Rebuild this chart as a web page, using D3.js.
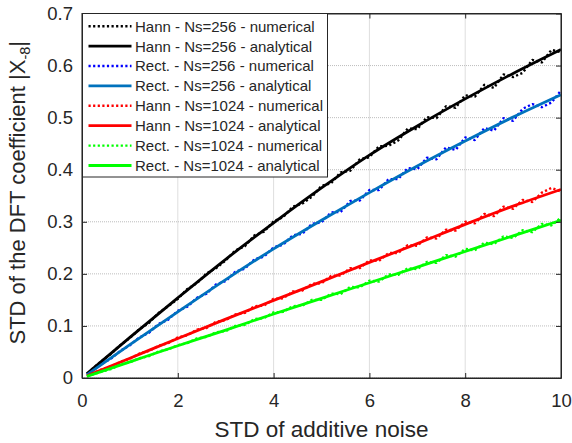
<!DOCTYPE html>
<html><head><meta charset="utf-8">
<script src="https://cdn.jsdelivr.net/npm/d3@7"></script>
<style>
body{margin:0;background:#fff}
text{font-family:"Liberation Sans",Arial,Helvetica,sans-serif;fill:#262626}
</style></head>
<body>
<svg id="chart" width="572" height="443"></svg>
<script>
// ---------- data ----------
const xTicks = [0, 2, 4, 6, 8, 10];
const xTickLabels = ["0", "2", "4", "6", "8", "10"];
const yTicks = [0, 0.1, 0.2, 0.3, 0.4, 0.5, 0.6, 0.7];
const yTickLabels = ["0", "0.1", "0.2", "0.3", "0.4", "0.5", "0.6", "0.7"];

const xAnalytical = [0.1, 1, 2, 3, 4, 5, 6, 7, 8, 9, 10];
const hann256Ana  = [0.008, 0.078, 0.154, 0.228, 0.298, 0.365, 0.428, 0.484, 0.536, 0.585, 0.631];
const rect256Ana  = [0.006, 0.064, 0.127, 0.189, 0.248, 0.303, 0.356, 0.407, 0.455, 0.501, 0.544];
const hann1024Ana = [0.004, 0.038, 0.076, 0.113, 0.149, 0.185, 0.222, 0.258, 0.295, 0.330, 0.362];
const rect1024Ana = [0.003, 0.031, 0.062, 0.092, 0.123, 0.153, 0.183, 0.213, 0.243, 0.273, 0.303];

const xNumerical = [0.2,0.4,0.6,0.8,1.0,1.2,1.4,1.6,1.8,2.0,2.2,2.4,2.6,2.8,3.0,3.2,3.4,3.6,3.8,4.0,
  4.2,4.4,4.6,4.8,5.0,5.2,5.4,5.6,5.8,6.0,6.2,6.4,6.6,6.8,7.0,7.2,7.4,7.6,7.8,8.0,
  8.2,8.4,8.6,8.8,9.0,9.2,9.4,9.6,9.8,10.0];
const hann256Num = [0.016,0.032,0.046,0.063,0.077,0.094,0.106,0.125,0.138,0.152,0.171,0.182,0.201,0.211,0.226,0.245,0.253,0.274,0.281,0.301,
  0.309,0.329,0.335,0.348,0.369,0.374,0.395,0.398,0.420,0.424,0.445,0.446,0.456,0.479,0.478,0.501,0.499,0.522,0.519,0.543,
  0.540,0.563,0.557,0.583,0.578,0.586,0.611,0.606,0.630,0.626];
const rect256Num = [0.013,0.027,0.037,0.052,0.063,0.078,0.087,0.104,0.112,0.129,0.137,0.154,0.162,0.180,0.186,0.204,0.210,0.228,0.233,0.251,
  0.256,0.274,0.277,0.296,0.299,0.318,0.319,0.340,0.341,0.361,0.361,0.382,0.382,0.403,0.401,0.423,0.420,0.443,0.438,0.462,
  0.457,0.480,0.475,0.499,0.494,0.517,0.526,0.520,0.529,0.552];
const hann1024Num = [0.008,0.016,0.022,0.031,0.037,0.047,0.052,0.062,0.067,0.078,0.082,0.093,0.096,0.108,0.111,0.122,0.125,0.138,0.139,0.152,
  0.153,0.166,0.168,0.181,0.182,0.196,0.197,0.211,0.211,0.226,0.225,0.240,0.240,0.255,0.254,0.270,0.268,0.285,0.283,0.300,
  0.297,0.315,0.311,0.329,0.325,0.342,0.338,0.356,0.365,0.358];
const rect1024Num = [0.006,0.012,0.017,0.026,0.030,0.038,0.042,0.051,0.055,0.063,0.067,0.076,0.079,0.088,0.090,0.100,0.102,0.113,0.115,0.126,
  0.127,0.138,0.139,0.150,0.150,0.162,0.161,0.175,0.174,0.187,0.185,0.199,0.198,0.211,0.209,0.223,0.221,0.236,0.233,0.248,
  0.245,0.260,0.257,0.272,0.269,0.284,0.280,0.296,0.293,0.308];

const seriesNames = [
  "Hann - Ns=256 - numerical", "Hann - Ns=256 - analytical",
  "Rect. - Ns=256 - numerical", "Rect. - Ns=256 - analytical",
  "Hann - Ns=1024 - numerical", "Hann - Ns=1024 - analytical",
  "Rect. - Ns=1024 - numerical", "Rect. - Ns=1024 - analytical"
];
const seriesColors = ["#000000","#000000","#0000ff","#0072bd","#ff0000","#ff0000","#00ff00","#00ff00"];
const seriesKinds = ["num","ana","num","ana","num","ana","num","ana"];
const seriesValues = [hann256Num, hann256Ana, rect256Num, rect256Ana, hann1024Num, hann1024Ana, rect1024Num, rect1024Ana];

// ---------- layout ----------
const W = 572, H = 443;
const L = 82, R = 561, T = 13.5, B = 378;

const svg = d3.select("#chart");
svg.append("rect").attr("width", W).attr("height", H).attr("fill", "#fff");

const x = d3.scaleLinear().domain([0, 10]).range([L, R]);
const y = d3.scaleLinear().domain([0, 0.7]).range([B, T]);

// grid
const grid = svg.append("g");
grid.selectAll("line.gx").data(xTicks).join("line")
  .attr("x1", d => x(d)).attr("x2", d => x(d)).attr("y1", T).attr("y2", B)
  .attr("stroke", "#bdbdbd").attr("stroke-width", 1).attr("stroke-dasharray", "1,1");
grid.selectAll("line.gy").data(yTicks).join("line")
  .attr("y1", d => y(d)).attr("y2", d => y(d)).attr("x1", L).attr("x2", R)
  .attr("stroke", "#bdbdbd").attr("stroke-width", 1).attr("stroke-dasharray", "1,1");

// series
const series = seriesNames.map((n, i) => ({
  name: n, color: seriesColors[i], kind: seriesKinds[i],
  pts: (seriesKinds[i] === "num" ? xNumerical : xAnalytical).map((xv, j) => [xv, seriesValues[i][j]])
}));

const lineNum = d3.line().x(d => x(d[0])).y(d => y(d[1]));
const lineAna = d3.line().x(d => x(d[0])).y(d => y(d[1])).curve(d3.curveMonotoneX);

const plot = svg.append("g");
[0,2,4,6,1,3,5,7].forEach(i => {
  const s = series[i];
  plot.append("path")
    .attr("d", s.kind === "num" ? lineNum(s.pts) : lineAna(s.pts))
    .attr("fill", "none").attr("stroke", s.color)
    .attr("stroke-width", s.kind === "num" ? 2.4 : 2.8)
    .attr("stroke-dasharray", s.kind === "num" ? "2.2,2.4" : null)
    .attr("stroke-linejoin", "round");
});

// axes
const fmtX = (d) => xTickLabels[xTicks.indexOf(d)];
const fmtY = (d) => yTickLabels[yTicks.findIndex(v => Math.abs(v - d) < 1e-9)];

const axB = svg.append("g").attr("transform", `translate(0,${B})`)
  .call(d3.axisBottom(x).tickValues(xTicks).tickFormat(fmtX).tickSize(-5).tickSizeOuter(0).tickPadding(16));
const axT = svg.append("g").attr("transform", `translate(0,${T})`)
  .call(d3.axisTop(x).tickValues(xTicks).tickFormat("").tickSize(-5).tickSizeOuter(0));
const axL = svg.append("g").attr("transform", `translate(${L},0)`)
  .call(d3.axisLeft(y).tickValues(yTicks).tickFormat(fmtY).tickSize(-5).tickSizeOuter(0).tickPadding(9));
const axRt = svg.append("g").attr("transform", `translate(${R},0)`)
  .call(d3.axisRight(y).tickValues(yTicks).tickFormat("").tickSize(-5).tickSizeOuter(0));

[axB, axT, axL, axRt].forEach(a => {
  a.select(".domain").attr("stroke", "#262626");
  a.selectAll(".tick line").attr("stroke", "#262626");
  a.selectAll("text").attr("font-size", 18.5).attr("fill", "#262626")
    .attr("font-family", '"Liberation Sans", Arial, sans-serif');
});

svg.append("rect").attr("x", L).attr("y", T).attr("width", R - L).attr("height", B - T)
  .attr("fill", "none").attr("stroke", "#262626").attr("stroke-width", 1);

// axis labels
svg.append("text").attr("x", (L + R) / 2).attr("y", 436.5).attr("text-anchor", "middle")
  .attr("font-size", 22.5).text("STD of additive noise");

const yl = svg.append("text").attr("transform", `translate(25,${(T + B) / 2 - 3}) rotate(-90)`)
  .attr("text-anchor", "middle").attr("font-size", 22);
yl.append("tspan").text("STD of the DFT coefficient |X");
yl.append("tspan").attr("font-size", 14.5).attr("dy", 5).text("-8");
yl.append("tspan").attr("dy", -5).text("|");

// legend
const lg = svg.append("g");
const lgX = L + 0.5, lgY = T, lgW = 245, lgH = 163.5;
lg.append("rect").attr("x", lgX).attr("y", lgY).attr("width", lgW).attr("height", lgH)
  .attr("fill", "#fff").attr("stroke", "#262626").attr("stroke-width", 1);
const rows = lg.selectAll("g.row").data(series).join("g")
  .attr("transform", (d, i) => `translate(${lgX},${lgY + 12.7 + i * 19.9})`);
rows.append("line").attr("x1", 6).attr("x2", 49).attr("y1", 0).attr("y2", 0)
  .attr("stroke", d => d.color)
  .attr("stroke-width", d => d.kind === "num" ? 2.4 : 2.8)
  .attr("stroke-dasharray", d => d.kind === "num" ? "2.2,2.4" : null);
rows.append("text").attr("x", 52.5).attr("y", 0).attr("dy", "0.36em")
  .attr("font-size", 15).attr("fill", "#000").text(d => d.name);
</script>
</body></html>
